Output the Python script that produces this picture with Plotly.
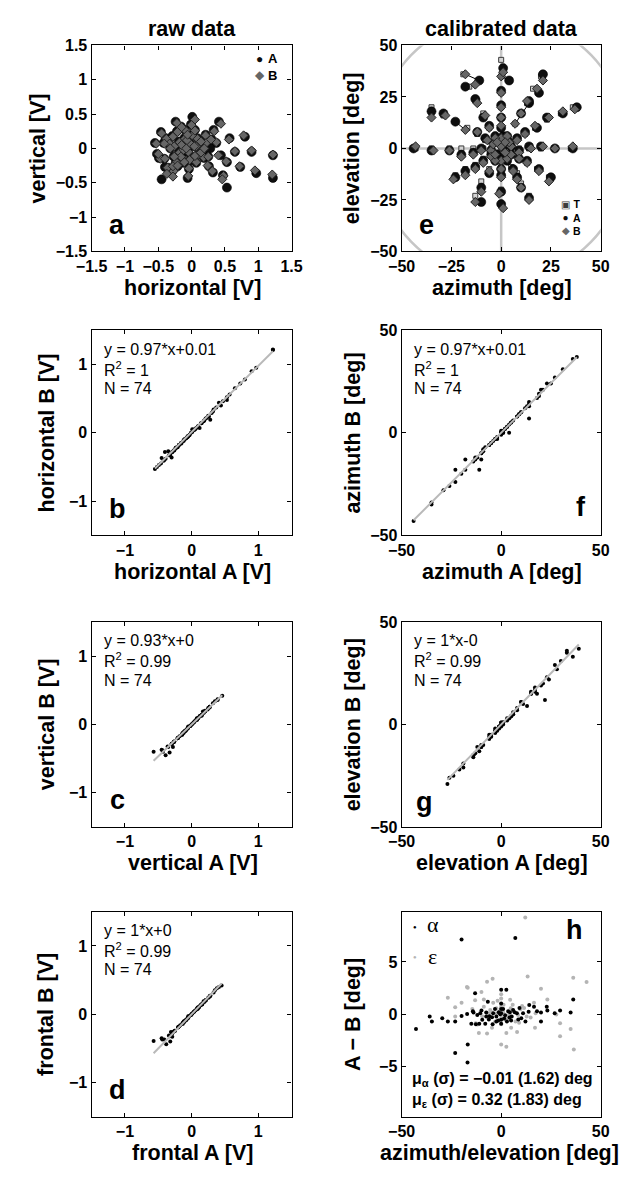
import plotly.graph_objects as go

PAGE_W, PAGE_H = 627, 1178
OFF = 0
FW, FH = PAGE_W - 2 * OFF, PAGE_H - 2 * OFF
FONT = "Liberation Sans, Arial, Helvetica, sans-serif"

# ---------------- panel a (raw data, V) : eye A and eye B ----------------
horiz_A = [1.22, 1.22, 0.90, 0.97, 0.80, 0.73, 0.57, 0.65, 0.53, 0.53,
           0.47, 0.41, 0.33, 0.37, 0.32, 0.26, 0.21, 0.23, 0.19, 0.18,
           0.01, -0.01, 0.01, -0.03, -0.05, -0.03, -0.04, -0.06, -0.24, -0.22,
           -0.29, -0.19, -0.39, -0.46, -0.34, -0.42, -0.55, -0.49, -0.41, -0.35,
           -0.24, -0.19, -0.12, -0.11, -0.10, 0.09, 0.12, 0.10, 0.07, -0.12,
           -0.30, -0.45, -0.40, -0.29, -0.21, -0.15, -0.07, 0.04, 0.05, -0.08,
           0.14, 0.15, -0.16, -0.26, -0.27, 0.28, 0.30, 0.05, -0.16, -0.06,
           0.25, 0.44, -0.52, -0.32]
vert_A = [-0.10, -0.43, -0.05, -0.36, 0.17, -0.27, 0.15, -0.05, -0.20, -0.57,
          -0.39, 0.39, 0.27, 0.08, -0.35, -0.26, 0.20, 0.08, -0.14, -0.02,
          0.46, 0.35, 0.20, 0.08, -0.06, -0.18, -0.30, -0.43, 0.39, 0.25,
          0.18, 0.10, 0.15, 0.24, 0.07, 0.08, 0.08, -0.14, -0.15, -0.28,
          -0.21, -0.06, -0.02, 0.15, 0.27, 0.15, 0.03, -0.09, -0.21, -0.21,
          -0.30, -0.45, -0.27, -0.33, -0.26, 0.05, 0.12, 0.03, -0.12, 0.00,
          0.10, -0.06, -0.13, 0.03, -0.12, 0.00, 0.13, 0.27, 0.32, 0.20,
          -0.12, -0.10, -0.08, 0.00]
horiz_B = [1.22, 1.21, 0.90, 0.95, 0.78, 0.72, 0.56, 0.65, 0.52, 0.48,
           0.46, 0.44, 0.34, 0.37, 0.31, 0.24, 0.21, 0.22, 0.18, 0.17,
           0.05, 0.00, 0.01, -0.03, -0.05, -0.03, -0.04, -0.05, -0.22, -0.21,
           -0.28, -0.18, -0.38, -0.45, -0.33, -0.41, -0.53, -0.47, -0.40, -0.27,
           -0.23, -0.18, -0.12, -0.10, -0.09, 0.09, 0.07, 0.10, 0.07, -0.11,
           -0.36, -0.37, -0.28, -0.28, -0.21, -0.15, -0.07, 0.04, 0.05, -0.08,
           0.14, 0.14, -0.16, -0.26, -0.26, 0.19, 0.29, 0.05, -0.15, -0.06,
           0.25, 0.40, -0.50, -0.32]
vert_B = [-0.09, -0.38, -0.03, -0.32, 0.19, -0.26, 0.13, -0.04, -0.19, -0.40,
          -0.45, 0.36, 0.25, 0.09, -0.33, -0.25, 0.19, 0.08, -0.13, -0.02,
          0.42, 0.34, 0.19, 0.08, -0.05, -0.17, -0.29, -0.40, 0.37, 0.24,
          0.17, 0.09, 0.14, 0.22, 0.07, 0.07, 0.07, -0.15, -0.15, -0.33,
          -0.20, -0.06, -0.02, 0.14, 0.26, 0.14, 0.03, -0.09, -0.20, -0.20,
          -0.28, -0.37, -0.26, -0.41, -0.25, 0.05, 0.12, 0.03, -0.11, 0.00,
          0.10, -0.06, -0.12, 0.03, -0.12, 0.00, 0.13, 0.26, 0.31, 0.20,
          -0.12, -0.10, -0.08, 0.00]

# ---------------- panel d (frontal component, V) ----------------
front_A = [-0.08, -0.41, -0.05, -0.34, 0.18, -0.26, 0.15, -0.04, -0.19, -0.57,
           -0.38, 0.41, 0.28, 0.09, -0.33, -0.25, 0.21, 0.09, -0.13, -0.01,
           0.45, 0.35, 0.21, 0.09, -0.05, -0.17, -0.29, -0.44, 0.38, 0.26,
           0.19, 0.11, 0.16, 0.25, 0.08, 0.09, 0.09, -0.13, -0.14, -0.29,
           -0.20, -0.05, -0.01, 0.16, 0.28, 0.16, 0.04, -0.08, -0.20, -0.20,
           -0.31, -0.45, -0.28, -0.32, -0.25, 0.06, 0.13, 0.04, -0.11, 0.01,
           0.11, -0.05, -0.12, 0.04, -0.11, 0.01, 0.14, 0.28, 0.33, 0.21,
           -0.11, -0.09, -0.07, 0.01]
front_B = [-0.08, -0.37, -0.03, -0.31, 0.19, -0.25, 0.14, -0.03, -0.18, -0.39,
           -0.44, 0.40, 0.27, 0.10, -0.32, -0.24, 0.20, 0.09, -0.12, -0.01,
           0.42, 0.35, 0.20, 0.09, -0.04, -0.16, -0.28, -0.37, 0.38, 0.25,
           0.18, 0.10, 0.15, 0.24, 0.08, 0.08, 0.08, -0.14, -0.14, -0.33,
           -0.19, -0.05, -0.01, 0.15, 0.27, 0.15, 0.04, -0.08, -0.19, -0.19,
           -0.26, -0.35, -0.26, -0.40, -0.24, 0.06, 0.13, 0.04, -0.10, 0.01,
           0.11, -0.05, -0.11, 0.04, -0.11, 0.01, 0.14, 0.27, 0.32, 0.21,
           -0.11, -0.09, -0.07, 0.01]

# ---------------- panel e (calibrated, deg): targets T, eyes A and B ----------------
target_az = [5, 9, 14, 20, 27, 35,
             -5, -9, -14, -20, -26, -35, -43,
             0, 0, 0, 0, 0, 0, 0,
             0, 0, 0, 0, 0,
             4, 8, 12, 17, 23, 30, 36,
             3, 7, 10, 13, 16, 20,
             -3, -6, -9, -12, -16, -19,
             -4, -8, -12, -17, -29, -35,
             -5, -9, -13, -18, -23,
             -3, -6, -10, -13,
             3, 5, 8, 10, 14,
             4, 9, 13, 18, 24,
             0, 2, -2, -2, 2]
target_el = [0, 0, 0, 0, 0, 0,
             0, 0, 0, 0, 0, 0, 0,
             5, 10, 15, 20, 27, 35, 43,
             -5, -9, -14, -20, -27,
             2, 5, 7, 10, 14, 17, 20,
             5, 12, 17, 22, 29, 35,
             5, 10, 17, 23, 30, 36,
             2, 4, 7, 10, 16, 20,
             -3, -5, -8, -10, -13,
             -5, -10, -16, -23,
             -5, -9, -12, -17, -23,
             -2, -5, -7, -10, -14,
             0, 3, 3, -2, -2]
az_A = [5, 9, 14, 20, 27, 36,
        -5, -10, -14, -20, -26, -35, -44,
        1, 0, 0, 0, 0, 4, 1,
        0, 0, 0, 0, 0,
        4, 8, 12, 18, 23, 31, 38,
        3, 14, 10, 14, 19, 21,
        -3, -6, -9, -13, -18, -11,
        -4, -8, -12, -23, -29, -35,
        -5, -9, -13, -18, -23,
        -3, -6, -10, -10,
        3, 6, 8, 10, 14,
        5, 9, 13, 19, 25,
        1, 2, -2, -2, 2]
el_A = [1, -1, 1, 1, 0, 0,
        -1, 0, -2, -3, -1, -1, 0,
        6, 10, 15, 21, 28, 33, 39,
        -5, -10, -13, -21, -27,
        3, 5, 8, 10, 15, 17, 20,
        6, 22, 17, 23, 27, 36,
        6, 11, 15, 24, 30, 33,
        3, 5, 8, 13, 17, 18,
        -3, -6, -9, -11, -14,
        -6, -12, -19, -26,
        -6, -10, -14, -19, -24,
        -3, -5, -6, -10, -14,
        1, 4, 4, -3, -3]
az_B = [5, 9, 15, 21, 27, 36,
        -5, -10, -14, -20, -26, -34, -43,
        0, 0, 0, 0, 0, 0, 1,
        0, 0, 0, -1, 1,
        4, 8, 12, 17, 24, 31, 37,
        3, 7, 10, 13, 18, 21,
        -3, -6, -8, -12, -13, -18,
        -4, -7, -12, -18, -28, -35,
        -5, -9, -13, -18, -24,
        -3, -6, -10, -13,
        3, 6, 8, 10, 14,
        5, 9, 13, 19, 24,
        0, 2, -2, -3, 2]
el_B = [1, -2, 0, 1, 0, 1,
        -1, -1, -3, -4, -1, -1, 1,
        5, 11, 15, 20, 27, 35, 37,
        -6, -10, -14, -22, -29,
        3, 4, 7, 11, 15, 18, 19,
        6, 12, 17, 23, 29, 33,
        5, 10, 16, 22, 31, 36,
        2, 4, 8, 9, 16, 15,
        -4, -7, -10, -13, -15,
        -6, -11, -21, -26,
        -5, -11, -15, -19, -25,
        -3, -5, -7, -11, -16,
        1, 3, 3, -3, -2]

# ---------------- panel h : A - B differences (deg) ----------------
alpha_x = [-42.8, -35.9, -34.8, -29.6, -26.8, -23.1, -23.1, -19.9, -19.9, -17.1,
           -16.8, -16.9, -13.9, -13.1, -12.0, -12.7, -9.9, -9.5, -7.5, -7.5,
           -6.7, -8.0, -4.6, -4.3, -2.4, -2.4, 0.0, 0.0, 0.0, 0.0,
           2.6, 2.9, 5.3, 7.1, 7.9, 10.1, 12.2, 13.8, 14.1, 16.5,
           20.0, 20.0, 22.9, 23.2, 26.9, 29.6, 34.9, 36.2, 1.0, 3.5,
           4.2, 6.0, -1.2, -3.1, 8.6, 11.0, -5.8, -11.0, -15.0, 0.0,
           0.0, 5.0, 9.2, -14.2, 18.0, -4.0, 1.5, -1.5, 4.4, -6.2,
           -10.5, 6.8, 2.0, -0.5]
alpha_diff = [-1.40, -0.22, -0.69, -0.38, -0.69, -0.69, -3.70, -0.16, 7.15, 0.03,
              -2.90, -4.60, 0.16, 2.00, -0.06, -0.95, 0.35, -0.53, 0.16, -0.22,
              1.20, -0.91, -0.28, -0.95, -0.22, -0.69, 2.35, 1.04, 0.09, -0.53,
              2.35, -0.69, -0.22, 7.30, 0.09, -0.38, -0.69, 0.25, 0.88, 0.72,
              0.16, -0.69, 0.72, 0.35, 0.09, 0.35, 0.16, 1.42, 0.50, 0.30,
              -0.30, 0.40, 0.20, 0.50, -0.50, 0.10, -0.20, -0.90, -0.90, -0.90,
              0.50, -0.60, 0.60, 0.30, 0.30, 0.10, -0.40, -0.60, 0.20, -0.50,
              0.10, 0.20, -0.10, 0.00]
eps_x = [-26.8, -23.1, -23.1, -19.9, -16.8, -13.1, -9.9, -8.7, -7.1, -4.3,
         -4.0, -11.9, -7.1, -4.6, 0.0, 0.0, 0.0, 0.0, 0.0, 0.0,
         2.6, 2.6, 4.5, 4.8, 5.0, 8.0, 7.2, 13.3, 12.8, 16.5,
         17.0, 17.3, 20.0, 23.2, 27.7, 29.6, 29.6, 34.9, 36.2, 36.5,
         42.9, 8.5, 9.6, -2.4, -2.4, -8.7, -12.8, 12.1, -11.2, -17.2,
         0.0, 1.2, -1.0, 3.4, 6.2, -5.5, 10.5, -14.5, 14.8, 0.0,
         2.0, -3.0, 5.8, -6.4, 9.0, -1.8, 1.0, 4.0, -9.5, 11.5,
         0.0, -0.8, 3.0, -4.8]
eps_diff = [1.57, 0.66, -0.22, 1.10, 2.54, 1.35, 2.14, 1.42, 3.10, 3.40,
            1.10, -0.99, -1.85, -1.30, 1.92, 1.50, 0.57, -0.38, -0.95, -2.90,
            -3.10, -1.79, 1.40, 0.57, -1.30, -1.70, -0.69, 3.60, -0.22, 1.10,
            -1.30, 0.09, 2.45, 1.42, -0.03, -0.85, -2.10, -1.42, 3.50, -3.37,
            3.08, -0.06, 0.47, 0.57, 0.09, 0.72, -0.85, 9.25, -1.80, 2.60,
            0.20, 0.90, -0.60, -0.40, 0.30, 0.40, 0.80, 0.50, -0.30, -0.10,
            -0.50, -0.70, 0.90, 0.10, -0.80, 1.30, 0.20, 0.00, -0.20, 0.60,
            0.80, 0.30, -0.30, 0.20]

# regression results printed in panels (slope, intercept)
fit_b = (0.97, 0.01)
fit_c = (0.93, 0.0)
fit_d = (1.0, 0.0)
fit_f = (0.97, 0.01)
fit_g = (1.0, 0.0)

# ---------------- layout geometry (page pixels) ----------------
COLS = [(79, 288), (403, 611)]
ROWS = [(38, 247), (327, 535), (623, 831), (917, 1125)]
PANEL_POS = {'a': (0, 0), 'e': (1, 0), 'b': (0, 1), 'f': (1, 1),
             'c': (0, 2), 'g': (1, 2), 'd': (0, 3), 'h': (1, 3)}
ORDER = ['a', 'e', 'b', 'f', 'c', 'g', 'd', 'h']
AX = {p: (i + 1) for i, p in enumerate(ORDER)}


def PX(x):
    return (x - OFF) / FW


def PY(y):
    return 1 - (y - OFF) / FH


def axref(p):
    n = AX[p]
    return ('x' if n == 1 else 'x%d' % n), ('y' if n == 1 else 'y%d' % n)


def lab(v):
    return ('%g' % v).replace('-', '\u2212')


V15 = [-1.5, -1, -0.5, 0, 0.5, 1, 1.5]
V1 = [-1, 0, 1]
D25 = [-50, -25, 0, 25, 50]
D50 = [-50, 0, 50]
TICKS = {
    'a': (V15, V15, [-1.5, 1.5], [-1.5, 1.5]),
    'b': (V1, V1, [-1.5, 1.5], [-1.5, 1.5]),
    'c': (V1, V1, [-1.5, 1.5], [-1.5, 1.5]),
    'd': (V1, V1, [-1.5, 1.5], [-1.5, 1.5]),
    'e': (D25, D25, [-50, 50], [-50, 50]),
    'f': (D50, D50, [-50, 50], [-50, 50]),
    'g': (D50, D50, [-50, 50], [-50, 50]),
    'h': (D50, [-5, 0, 5], [-50, 50], [-9.8, 9.8]),
}

fig = go.Figure()
layout = dict(width=FW, height=FH, margin=dict(l=0, r=0, t=0, b=0),
              paper_bgcolor='white', plot_bgcolor='white', showlegend=False,
              font=dict(family=FONT, color='black'))

for p in ORDER:
    c, r = PANEL_POS[p]
    n = AX[p]
    xv, yv, xr, yr = TICKS[p]
    common = dict(showline=True, linecolor='black', linewidth=1.3, mirror='ticks',
                  ticks='inside', ticklen=4, tickwidth=1, tickcolor='black',
                  showgrid=False, zeroline=False,
                  tickfont=dict(family=FONT, size=16, color='black', weight='bold'))
    xa = dict(common, domain=[PX(COLS[c][0]), PX(COLS[c][1])], range=xr,
              tickvals=xv, ticktext=[lab(v) for v in xv],
              anchor=('y' if n == 1 else 'y%d' % n))
    ya = dict(common, domain=[PY(ROWS[r][1]), PY(ROWS[r][0])], range=yr,
              tickvals=yv, ticktext=[lab(v) for v in yv],
              anchor=('x' if n == 1 else 'x%d' % n))
    layout['xaxis' if n == 1 else 'xaxis%d' % n] = xa
    layout['yaxis' if n == 1 else 'yaxis%d' % n] = ya

# ---------------- traces ----------------
# panel a
xr_, yr_ = axref('a')
fig.add_trace(go.Scatter(x=horiz_A, y=vert_A, mode='markers', xaxis=xr_, yaxis=yr_,
                         marker=dict(symbol='circle', size=9, color='#0e0e0e',
                                     line=dict(color='#000000', width=0.6))))
fig.add_trace(go.Scatter(x=horiz_B, y=vert_B, mode='markers', xaxis=xr_, yaxis=yr_,
                         marker=dict(symbol='diamond', size=7, color='#666666',
                                     line=dict(color='#222222', width=1))))

# panel e
xr_, yr_ = axref('e')
seg_x, seg_y = [], []
for a1, b1, a2, b2 in zip(az_A, el_A, az_B, el_B):
    seg_x += [a1, a2, None]
    seg_y += [b1, b2, None]
fig.add_trace(go.Scatter(x=seg_x, y=seg_y, mode='lines', xaxis=xr_, yaxis=yr_,
                         line=dict(color='black', width=1)))
fig.add_trace(go.Scatter(x=target_az, y=target_el, mode='markers', xaxis=xr_, yaxis=yr_,
                         marker=dict(symbol='square', size=5, color='#d4d4d4',
                                     line=dict(color='#3c3c3c', width=1))))
fig.add_trace(go.Scatter(x=az_A, y=el_A, mode='markers', xaxis=xr_, yaxis=yr_,
                         marker=dict(symbol='circle', size=9, color='#0e0e0e',
                                     line=dict(color='#000000', width=0.6))))
fig.add_trace(go.Scatter(x=az_B, y=el_B, mode='markers', xaxis=xr_, yaxis=yr_,
                         marker=dict(symbol='diamond', size=7, color='#666666',
                                     line=dict(color='#222222', width=1))))


def regression_panel(p, xs, ys, fit):
    xr_, yr_ = axref(p)
    fig.add_trace(go.Scatter(x=xs, y=ys, mode='markers', xaxis=xr_, yaxis=yr_,
                             marker=dict(symbol='circle', size=4, color='black')))
    lo, hi = min(xs), max(xs)
    fig.add_trace(go.Scatter(x=[lo, hi], y=[fit[0] * lo + fit[1], fit[0] * hi + fit[1]],
                             mode='lines', xaxis=xr_, yaxis=yr_,
                             line=dict(color='#b9b9b9', width=2)))


regression_panel('b', horiz_A, horiz_B, fit_b)
regression_panel('c', vert_A, vert_B, fit_c)
regression_panel('d', front_A, front_B, fit_d)
regression_panel('f', az_A, az_B, fit_f)
regression_panel('g', el_A, el_B, fit_g)

# panel h
xr_, yr_ = axref('h')
fig.add_trace(go.Scatter(x=eps_x, y=eps_diff, mode='markers', xaxis=xr_, yaxis=yr_,
                         marker=dict(symbol='circle', size=4, color='#b4b4b4')))
fig.add_trace(go.Scatter(x=alpha_x, y=alpha_diff, mode='markers', xaxis=xr_, yaxis=yr_,
                         marker=dict(symbol='circle', size=4, color='black')))

# ---------------- shapes (reference lines in panel e) ----------------
xr_, yr_ = axref('e')
GRAY = '#c6c6c6'
layout['shapes'] = [
    dict(type='line', xref=xr_, yref=yr_, x0=0, x1=0, y0=-50, y1=50,
         line=dict(color=GRAY, width=2.5), layer='below'),
    dict(type='line', xref=xr_, yref=yr_, x0=-50, x1=50, y0=0, y1=0,
         line=dict(color=GRAY, width=2.5), layer='below'),
    dict(type='circle', xref=xr_, yref=yr_, x0=-64, x1=64, y0=-64, y1=64,
         line=dict(color=GRAY, width=2.5), layer='below'),
]

# ---------------- annotations ----------------
anns = []


def ann(text, x, y, size, bold=True, xa='center', ya='middle', angle=0, family=FONT, color='black'):
    anns.append(dict(text=text, x=PX(x), y=PY(y), xref='paper', yref='paper',
                     xanchor=xa, yanchor=ya, textangle=angle, showarrow=False,
                     font=dict(family=family, size=size, color=color,
                               weight='bold' if bold else 'normal')))


TITLE_SIZE = 21.5
ann('raw data', 183.5, 21, TITLE_SIZE)
ann('calibrated data', 507, 21, TITLE_SIZE)

XLAB = {'a': 'horizontal [V]', 'e': 'azimuth [deg]', 'b': 'horizontal A [V]',
        'f': 'azimuth A [deg]', 'c': 'vertical A [V]', 'g': 'elevation A [deg]',
        'd': 'frontal A [V]', 'h': 'azimuth/elevation [deg]'}
YLAB = {'a': 'vertical [V]', 'e': 'elevation [deg]', 'b': 'horizontal B [V]',
        'f': 'azimuth B [deg]', 'c': 'vertical B [V]', 'g': 'elevation B [deg]',
        'd': 'frontal B [V]', 'h': 'A \u2212 B [deg]'}
for p in ORDER:
    c, r = PANEL_POS[p]
    x0, x1 = COLS[c]
    y0, y1 = ROWS[r]
    xc = (x0 + x1) / 2 + 1
    if p == 'h':
        xc = 505
    ann(XLAB[p], xc, y1 + 37, TITLE_SIZE)
    if c == 0:
        yl_x = 23 if p == 'a' else 32
    else:
        yl_x = 352
    ann(YLAB[p], yl_x, (y0 + y1) / 2, TITLE_SIZE, angle=-90)

# panel letters
LETTER = 27
for p in ['a', 'b', 'c', 'd']:
    c, r = PANEL_POS[p]
    ann(p, COLS[c][0] + 27, ROWS[r][1] - 27, LETTER)
ann('e', COLS[1][0] + 26, ROWS[0][1] - 27, LETTER)
ann('g', COLS[1][0] + 24, ROWS[2][1] - 25, LETTER)
ann('f', COLS[1][1] - 21, ROWS[1][1] - 29, LETTER)
ann('h', COLS[1][1] - 27, ROWS[3][0] + 18, LETTER)

# regression texts
FIT_TXT = {'b': ('y = 0.97*x+0.01', 'R<sup>2</sup> = 1', 'N = 74'),
           'c': ('y = 0.93*x+0', 'R<sup>2</sup> = 0.99', 'N = 74'),
           'd': ('y = 1*x+0', 'R<sup>2</sup> = 0.99', 'N = 74'),
           'f': ('y = 0.97*x+0.01', 'R<sup>2</sup> = 1', 'N = 74'),
           'g': ('y = 1*x-0', 'R<sup>2</sup> = 0.99', 'N = 74')}
for p, lines in FIT_TXT.items():
    c, r = PANEL_POS[p]
    for i, t in enumerate(lines):
        ann(t, COLS[c][0] + 11, ROWS[r][0] + 19 + 20 * i, 16, bold=False, xa='left')

# legend of panel a (two lines)
ann("<span style='color:#0e0e0e'>\u25cf</span><br><span style='color:#666666'>\u25c6</span>",
    255, 59.5, 12, bold=False)
ann('A<br>B', 261, 59.5, 13, xa='left')

# legend of panel e
ann("<span style='color:#3c3c3c'>\u25a3</span><br><span style='color:#0e0e0e'>\u25cf</span>"
    "<br><span style='color:#666666'>\u25c6</span>", 574, 213, 10, bold=False)
ann('T<br>A<br>B', 580, 213, 10.5, xa='left')

# legend of panel h
SERIF = "Liberation Serif, Times New Roman, serif"
ann('\u25cf', 416.5, 932, 6, bold=False, color='black')
ann('\u03b1', 427, 930, 22, bold=False, xa='left', family=SERIF)
ann('\u25cf', 416.5, 963, 6, bold=False, color='#b4b4b4')
ann('\u03b5', 428, 962, 22, bold=False, xa='left', family=SERIF)

ann('\u03bc<sub>\u03b1</sub> (\u03c3) = \u22120.01 (1.62) deg', 412, 1087, 16, xa='left')
ann('\u03bc<sub>\u03b5</sub> (\u03c3) = 0.32 (1.83) deg', 412, 1108, 16, xa='left')

layout['annotations'] = anns
fig.update_layout(**layout)
fig.write_html('out.html')
